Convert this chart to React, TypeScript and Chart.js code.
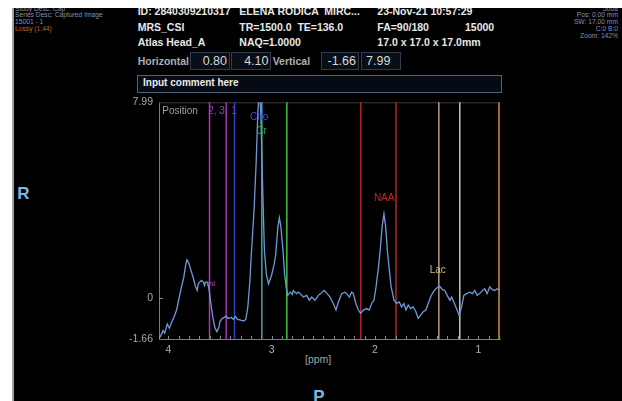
import React, { useEffect, useRef } from 'react';
import { Chart, registerables } from 'chart.js';

Chart.register(...registerables);

const FONT = '"Liberation Sans", Arial, Helvetica, sans-serif';

// ---- Spectrum data (ppm, signal) ----
const chemicalShift = [
  4.09, 4.07, 4.05, 4.035, 4.01, 3.99, 3.97, 3.95, 3.92, 3.90, 3.88, 3.85, 3.83, 3.82, 3.80, 3.78, 3.76, 3.74,
  3.72, 3.71, 3.68, 3.66, 3.65, 3.64, 3.62, 3.61, 3.60, 3.59, 3.57, 3.55, 3.53, 3.51, 3.50, 3.48, 3.46, 3.44,
  3.42, 3.39, 3.37, 3.35, 3.33, 3.30, 3.27, 3.25, 3.23, 3.21, 3.195, 3.17, 3.15, 3.135, 3.12, 3.105, 3.09, 3.07,
  3.05, 3.03, 3.00, 2.975, 2.96, 2.94, 2.925, 2.91, 2.89, 2.875, 2.86, 2.845, 2.82, 2.80, 2.79, 2.76, 2.74, 2.725,
  2.693, 2.66, 2.635, 2.612, 2.58, 2.548, 2.525, 2.493, 2.467, 2.435, 2.403, 2.377, 2.354, 2.322, 2.29, 2.274,
  2.248, 2.225, 2.21, 2.184, 2.161, 2.138, 2.113, 2.08, 2.055, 2.032, 2.01, 1.99, 1.968, 1.95, 1.93, 1.913,
  1.897, 1.88, 1.862, 1.845, 1.816, 1.79, 1.765, 1.742, 1.72, 1.70, 1.678, 1.655, 1.63, 1.604, 1.582, 1.558,
  1.533, 1.507, 1.485, 1.462, 1.437, 1.411, 1.388, 1.372, 1.346, 1.324, 1.301, 1.275, 1.259, 1.237, 1.211, 1.186,
  1.162, 1.14, 1.114, 1.082, 1.056, 1.034, 1.011, 0.986, 0.959, 0.937, 0.915, 0.889, 0.863, 0.841, 0.818, 0.79,
];
const signal = [
  -1.65, -1.49, -1.32, -1.42, -1.05, -1.22, -1.0, -0.82, -0.48, -0.08, 0.32, 0.86, 1.4, 1.57, 1.42, 1.13, 0.86, 0.52,
  0.32, 0.59, 0.73, 0.66, 0.52, 0.66, 0.66, 0.46, 0.19, -0.15, -0.75, -1.18, -1.36, -1.18, -0.95, -0.82, -0.78, -0.73,
  -0.82, -0.78, -0.86, -0.75, -0.86, -0.89, -0.93, -0.86, -0.35, 0.73, 1.9, 3.6, 5.5, 7.4, 8.6, 7.6, 5.0, 1.94,
  0.95, 0.59, 0.95, 1.4, 1.8, 2.9, 3.28, 2.9, 1.94, 1.0, 0.46, 0.12, 0.25, 0.16, 0.32, 0.19, 0.25, 0.19,
  0.05, 0.12, -0.08, 0.05, -0.08, 0.12, 0.19, 0.32, 0.21, 0.05, -0.21, -0.48, -0.15, 0.19, 0.25, 0.19,
  0.05, 0.25, 0.19, -0.21, -0.48, -0.62, -0.48, -0.42, -0.48, -0.21, -0.08, 0.45, 1.2, 1.94, 2.95, 3.44,
  2.95, 1.94, 1.2, 0.5, -0.08, -0.21, -0.15, -0.35, -0.21, -0.48, -0.28, -0.42, -0.35, -0.55, -0.82, -0.69,
  -0.55, -0.48, -0.21, 0.05, 0.25, 0.39, 0.46, 0.48, 0.35, 0.32, 0.12, -0.08, 0.05, -0.15, -0.42, -0.69,
  -0.35, 0.12, 0.19, 0.25, 0.19, 0.32, 0.12, 0.19, 0.32, 0.39, 0.19, 0.46, 0.35, 0.32, 0.39, 0.32,
];

// ---- Axes ----
const xRangeMin = 0.79;
const xRangeMax = 4.09;
const yRangeMin = -1.66;
const yRangeMax = 7.99;
const xMajorTicks = [4, 3, 2, 1];
const xMajorLabels = ['4', '3', '2', '1'];
const xMinorTicks = [
  4.0, 3.9, 3.8, 3.7, 3.6, 3.5, 3.4, 3.3, 3.2, 3.1, 3.0, 2.9, 2.8, 2.7, 2.6, 2.5, 2.4, 2.3, 2.2, 2.1, 2.0,
  1.9, 1.8, 1.7, 1.6, 1.5, 1.4, 1.3, 1.2, 1.1, 1.0, 0.9, 0.8,
];
const yTickValues = [-1.66, 0, 7.99];
const yTickLabels = ['-1.66', '0', '7.99'];

// ---- Metabolite position markers ----
const markerPpm = [3.601, 3.44, 3.359, 3.095, 2.853, 2.138, 1.797, 1.382, 1.179, 0.79];
const markerColors = ['#b835b8', '#a830ac', '#3a3ad0', '#38a8a8', '#44c040', '#b82424', '#b82424', '#b89c7c', '#c4c4c4', '#d0902c'];

// ---- Text annotations in the plot ----
const noteTexts = ['Position', '2, 3,', '1', 'Cho', 'Cr', 'NAA', 'Lac', 'mI'];
const notePpm = [4.058, 3.614, 3.392, 3.121, 3.099, 1.911, 1.393, 3.588];
const noteValue = [7.62, 7.62, 7.62, 7.38, 6.83, 4.06, 1.16, 0.6];
const noteAlign = ['left', 'left', 'left', 'center', 'center', 'center', 'center', 'center'];
const noteColors = ['#a0a0a0', '#8a44c8', '#4848e0', '#3656d4', '#34b034', '#c42626', '#d8b890', '#d040d0'];
const noteSizes = [10, 10, 10, 10, 10, 10, 10, 8];

const PX = 14;
const PY = 8;

type TProps = { x?: number; right?: number; cy: number; size?: number; color?: string; bold?: boolean; text: string };
const T = ({ x, right, cy, size = 10.5, color = '#e8e8e8', bold = false, text }: TProps) => (
  <div
    style={{
      position: 'absolute',
      left: right === undefined ? (x as number) - PX : undefined,
      right: right !== undefined ? 622 - right : undefined,
      top: cy - 0.488 * size - PY,
      fontSize: size,
      lineHeight: `${size}px`,
      color,
      fontWeight: bold ? 700 : 400,
      whiteSpace: 'pre',
      fontFamily: FONT,
    }}
  >
    {text}
  </div>
);

const Box = ({ x1, y1, x2, y2, border, bg }: { x1: number; y1: number; x2: number; y2: number; border: string; bg: string }) => (
  <div
    style={{
      position: 'absolute',
      left: x1 - PX,
      top: y1 - PY,
      width: x2 - x1,
      height: y2 - y1,
      border: `1px solid ${border}`,
      background: bg,
      boxSizing: 'border-box',
    }}
  />
);

export default function App() {
  const ref = useRef<HTMLCanvasElement>(null);

  useEffect(() => {
    const canvas = ref.current;
    if (!canvas) return;

    const overlay = {
      id: 'mrsOverlay',
      beforeDatasetsDraw(chart: any) {
        const { ctx, chartArea: a, scales } = chart;
        const xs = scales.x;
        const ys = scales.y;
        ctx.save();
        // top frame
        ctx.strokeStyle = '#3e3a36';
        ctx.lineWidth = 1;
        ctx.beginPath();
        ctx.moveTo(a.left, a.top + 0.5);
        ctx.lineTo(a.right, a.top + 0.5);
        ctx.stroke();
        // marker lines
        markerPpm.forEach((p, i) => {
          let px = xs.getPixelForValue(p);
          px = Math.min(Math.max(px, a.left + 1), a.right - 1);
          ctx.strokeStyle = markerColors[i];
          ctx.lineWidth = 1.5;
          ctx.beginPath();
          ctx.moveTo(px, a.top);
          ctx.lineTo(px, a.bottom);
          ctx.stroke();
        });
        // inward ticks
        ctx.strokeStyle = '#8a8a8a';
        ctx.lineWidth = 1;
        xMinorTicks.forEach((v) => {
          const px = Math.round(xs.getPixelForValue(v)) + 0.5;
          ctx.beginPath();
          ctx.moveTo(px, a.bottom);
          ctx.lineTo(px, a.bottom - 3);
          ctx.stroke();
        });
        const y0 = Math.round(ys.getPixelForValue(0)) + 0.5;
        ctx.beginPath();
        ctx.moveTo(a.left, y0);
        ctx.lineTo(a.left + 4, y0);
        ctx.stroke();
        ctx.restore();
      },
      afterDatasetsDraw(chart: any) {
        const { ctx, scales } = chart;
        ctx.save();
        ctx.textBaseline = 'middle';
        noteTexts.forEach((t, i) => {
          ctx.font = `${noteSizes[i]}px ${FONT}`;
          ctx.fillStyle = noteColors[i];
          ctx.textAlign = noteAlign[i] as CanvasTextAlign;
          ctx.fillText(t, scales.x.getPixelForValue(notePpm[i]), scales.y.getPixelForValue(noteValue[i]));
        });
        ctx.restore();
      },
    };

    const chart = new Chart(canvas, {
      type: 'line',
      data: {
        datasets: [
          {
            data: chemicalShift.map((x, i) => ({ x, y: signal[i] })),
            borderColor: '#6f9ad8',
            borderWidth: 1.3,
            pointRadius: 0,
            fill: false,
            tension: 0,
            clip: 0,
          } as any,
        ],
      },
      options: {
        responsive: false,
        animation: false,
        maintainAspectRatio: false,
        layout: { padding: { top: 10, right: 20, left: 0, bottom: 0 } },
        plugins: { legend: { display: false }, tooltip: { enabled: false }, title: { display: false } },
        scales: {
          x: {
            type: 'linear',
            reverse: true,
            min: xRangeMin,
            max: xRangeMax,
            afterFit: (s: any) => {
              s.height = 41;
            },
            afterBuildTicks: (s: any) => {
              s.ticks = xMajorTicks.map((v) => ({ value: v }));
            },
            ticks: {
              autoSkip: false,
              maxRotation: 0,
              padding: 5,
              color: '#b0b0b0',
              font: { family: FONT, size: 10.5 },
              callback: (_v: any, i: number) => xMajorLabels[i],
            },
            grid: { display: false, drawTicks: false },
            border: { display: true, color: '#7c7c7c', width: 1 },
          },
          y: {
            type: 'linear',
            min: yRangeMin,
            max: yRangeMax,
            afterFit: (s: any) => {
              s.width = 59;
            },
            afterBuildTicks: (s: any) => {
              s.ticks = yTickValues.map((v) => ({ value: v }));
            },
            ticks: {
              autoSkip: false,
              padding: 6,
              color: '#a8a8a8',
              font: { family: FONT, size: 10.5 },
              callback: (_v: any, i: number) => yTickLabels[i],
            },
            grid: { display: false, drawTicks: false },
            border: { display: true, color: '#7c7c7c', width: 1 },
          },
        },
      } as any,
      plugins: [overlay],
    });

    return () => chart.destroy();
  }, []);

  const gray = '#a8b0ba';
  const tiny = '#8290b4';

  return (
    <div style={{ position: 'fixed', left: 0, top: 0, width: 622, height: 401, background: '#ffffff', overflow: 'hidden' }}>
      <div style={{ position: 'absolute', left: 12, top: 8, width: 2, height: 393, background: '#9aa2ab' }} />
      <div style={{ position: 'absolute', left: PX, top: PY, width: 622 - PX, height: 401 - PY, background: '#000000', overflow: 'hidden' }}>
        {/* tiny corner text */}
        <T x={15} cy={9} size={6.7} color={tiny} text="Study Desc: Cap" />
        <T x={15} cy={15.7} size={6.7} color={tiny} text="Series Desc: Captured Image" />
        <T x={15} cy={22.5} size={6.7} color={tiny} text="15001 - 1" />
        <T x={15} cy={29.3} size={6.7} color="#c8622c" text="Lossy (1:44)" />
        <T right={618} cy={9} size={6.7} color={tiny} text="5008" />
        <T right={618} cy={15.7} size={6.7} color={tiny} text="Pos: 0.00 mm" />
        <T right={618} cy={22.5} size={6.7} color={tiny} text="SW: 17.00 mm" />
        <T right={618} cy={29.3} size={6.7} color={tiny} text="C:0 B:0" />
        <T right={618} cy={36.2} size={6.7} color={tiny} text="Zoom: 142%" />

        {/* header */}
        <T x={137.7} cy={11.2} bold text="ID: 2840309210317" />
        <T x={239.3} cy={11.2} bold text="ELENA RODICA  MIRC..." />
        <T x={377.3} cy={11.2} bold text="23-Nov-21 10:57:29" />
        <T x={137.7} cy={26.8} bold text="MRS_CSI" />
        <T x={239.3} cy={26.8} bold text="TR=1500.0  TE=136.0" />
        <T x={377.3} cy={26.8} bold text="FA=90/180" />
        <T x={465} cy={26.8} bold text="15000" />
        <T x={137.7} cy={42.5} bold text="Atlas Head_A" />
        <T x={239.3} cy={42.5} bold text="NAQ=1.0000" />
        <T x={377.3} cy={42.5} bold text="17.0 x 17.0 x 17.0mm" />

        {/* range boxes */}
        <T x={137.7} cy={61.2} bold color={gray} text="Horizontal" />
        <Box x1={190} y1={52} x2={229.5} y2={70} border="#2e3c52" bg="#0a0e16" />
        <Box x1={231} y1={52} x2={271} y2={70} border="#2e3c52" bg="#0a0e16" />
        <T x={272.7} cy={61.2} bold color={gray} text="Vertical" />
        <Box x1={320.5} y1={52} x2={358.5} y2={70} border="#2e3c52" bg="#0a0e16" />
        <Box x1={360.5} y1={52} x2={400.5} y2={70} border="#2e3c52" bg="#0a0e16" />
        <T right={227} cy={61.2} size={12.5} color="#d8d8d8" text="0.80" />
        <T right={268.5} cy={61.2} size={12.5} color="#d8d8d8" text="4.10" />
        <T right={356} cy={61.2} size={12.5} color="#d8d8d8" text="-1.66" />
        <T x={366} cy={61.2} size={12.5} color="#d8d8d8" text="7.99" />

        <Box x1={136.7} y1={75} x2={502} y2={92.5} border="#52627a" bg="#060a12" />
        <T x={143} cy={83.3} size={10} bold color="#ececec" text="Input comment here" />

        {/* orientation letters */}
        <T x={17.3} cy={193.3} size={17} bold color="#7ab8e0" text="R" />
        <T x={313.3} cy={396} size={17} bold color="#7ab8e0" text="P" />

        {/* axis title */}
        <T x={305} cy={359.5} size={10.5} color="#a0a0a0" text="[ppm]" />

        <canvas
          ref={ref}
          width={420}
          height={290}
          style={{ position: 'absolute', left: 100 - PX, top: 90 - PY, width: 420, height: 290 }}
        />
      </div>
    </div>
  );
}
